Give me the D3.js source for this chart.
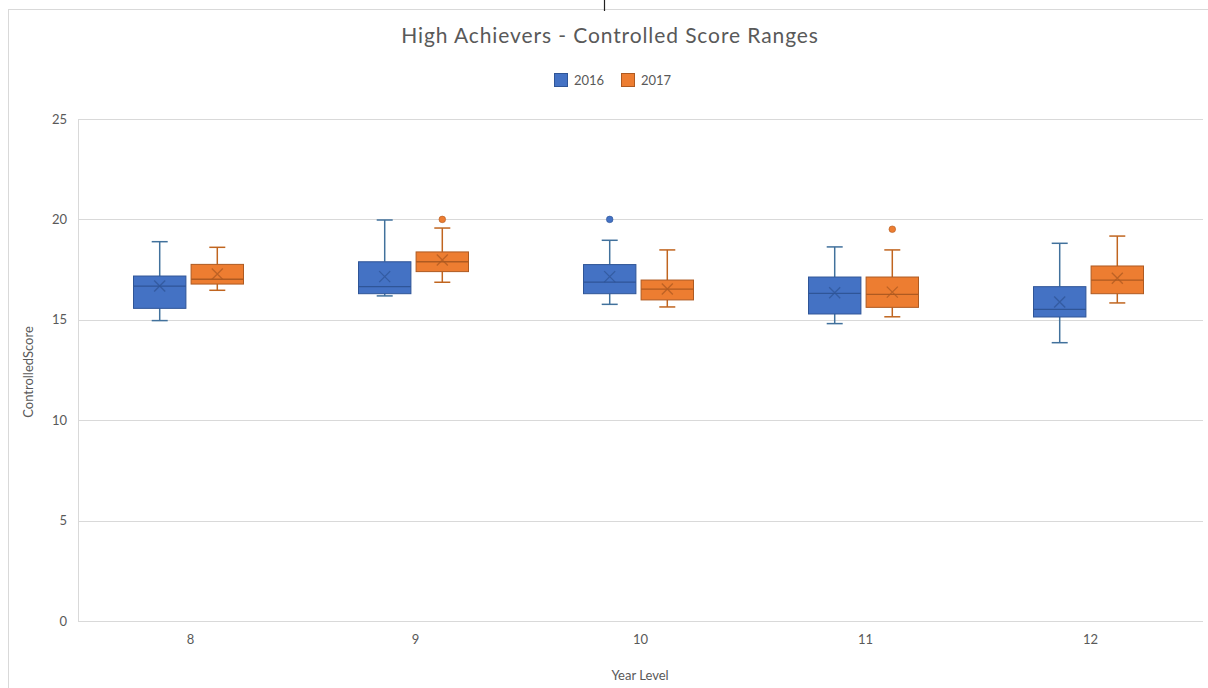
<!DOCTYPE html>
<html><head><meta charset="utf-8">
<script src="https://cdn.jsdelivr.net/npm/d3@7/dist/d3.min.js"></script>
<style>body{margin:0;background:#fff;}svg{display:block;font-family:Lato,"Open Sans",sans-serif;}</style>
</head><body>
<svg id="c" width="1208" height="688"></svg>
<script>
const categories = ["8","9","10","11","12"];
const series = ["2016","2017"];
const yTicks = [0,5,10,15,20,25];
// [whiskerLow, q1, median, q3, whiskerHigh, mean]
const values2016 = [
  [14.96,15.57,16.68,17.18,18.89,16.68],
  [16.19,16.30,16.65,17.89,19.97,17.15],
  [15.77,16.30,16.88,17.75,18.96,17.15],
  [14.81,15.29,16.32,17.13,18.63,16.35],
  [13.86,15.14,15.52,16.65,18.81,15.89]
];
const values2017 = [
  [16.47,16.78,17.02,17.76,18.61,17.28],
  [16.87,17.40,17.89,18.38,19.57,17.98],
  [15.64,15.99,16.53,16.98,18.48,16.53],
  [15.15,15.62,16.27,17.13,18.48,16.38],
  [15.84,16.30,16.98,17.68,19.17,17.07]
];
const outliers2016 = [[], [], [20.0], [], []];
const outliers2017 = [[], [20.0], [], [19.51], []];

const svg = d3.select("#c");
const m = {l:78, r:1203, t:119, b:621};

// chart border
svg.append("rect").attr("x",8.5).attr("y",9.5).attr("width",1210).attr("height",700)
  .attr("fill","none").attr("stroke","#d9d9d9");
svg.append("line").attr("x1",604.5).attr("x2",604.5).attr("y1",0).attr("y2",11).attr("stroke","#222").attr("stroke-width",1.2);

const x = d3.scaleBand().domain(categories).range([m.l, m.r]);
const xs = d3.scaleBand().domain(series).range([-57,53]).paddingInner(0.09);
const y = d3.scaleLinear().domain([0,25]).range([m.b, m.t]);

// gridlines
svg.append("g").selectAll("line").data(yTicks).join("line")
  .attr("x1",m.l).attr("x2",m.r)
  .attr("y1",d=>Math.round(y(d))+0.5).attr("y2",d=>Math.round(y(d))+0.5)
  .attr("stroke","#d9d9d9").attr("stroke-width",1);
svg.append("line").attr("x1",m.l+0.5).attr("x2",m.l+0.5).attr("y1",m.t).attr("y2",m.b)
  .attr("stroke","#d9d9d9");

// y axis
const yAxis = svg.append("g").attr("transform",`translate(${m.l-11},0)`)
  .call(d3.axisLeft(y).tickValues(yTicks).tickSize(0).tickPadding(0));
yAxis.select(".domain").remove();
yAxis.selectAll("text").attr("fill","#595959").attr("font-size","13px").attr("font-family","Lato, sans-serif");

// x axis
const xAxis = svg.append("g").attr("transform",`translate(0,${m.b+14})`)
  .call(d3.axisBottom(x).tickSize(0).tickPadding(0));
xAxis.select(".domain").remove();
xAxis.selectAll("text").attr("fill","#595959").attr("font-size","13px").attr("font-family","Lato, sans-serif");

// titles
svg.append("text").attr("x",610).attr("y",43).attr("text-anchor","middle")
  .attr("fill","#595959").attr("font-size","21px").attr("letter-spacing","0.9px")
  .text("High Achievers - Controlled Score Ranges");
svg.append("text").attr("x",640).attr("y",680).attr("text-anchor","middle")
  .attr("fill","#595959").attr("font-size","13px").text("Year Level");
svg.append("text").attr("transform","translate(33,372) rotate(-90)").attr("text-anchor","middle")
  .attr("fill","#595959").attr("font-size","13px").text("ControlledScore");

const fills = {"2016":"#4472C4","2017":"#ED7D31"};
const strokes = {"2016":"#2F5597","2017":"#AE5A21"};
const whisk = {"2016":"#41719C","2017":"#C0651F"};

// legend
const leg = svg.append("g");
const legX = {"2016":554,"2017":621};
series.forEach(s=>{
  leg.append("rect").attr("x",legX[s]+0.5).attr("y",73.5).attr("width",13).attr("height",13)
    .attr("fill",fills[s]).attr("stroke",strokes[s]);
  leg.append("text").attr("x",legX[s]+20).attr("y",85).attr("fill","#595959")
    .attr("font-size","13px").text(s);
});

const data = {"2016":values2016,"2017":values2017};
const outs = {"2016":outliers2016,"2017":outliers2017};
const bw = xs.bandwidth();
const capW = 16;
series.forEach(s=>{
  const g = svg.append("g");
  categories.forEach((c,i)=>{
    const [lo,q1,md,q3,hi,mn] = data[s][i];
    const cx = x(c)+x.bandwidth()/2 + xs(s) + bw/2;
    const st = whisk[s];
    g.append("line").attr("x1",cx).attr("x2",cx).attr("y1",y(hi)).attr("y2",y(q3)).attr("stroke",st).attr("stroke-width",1.5);
    g.append("line").attr("x1",cx).attr("x2",cx).attr("y1",y(q1)).attr("y2",y(lo)).attr("stroke",st).attr("stroke-width",1.5);
    g.append("line").attr("x1",cx-capW/2).attr("x2",cx+capW/2).attr("y1",y(hi)).attr("y2",y(hi)).attr("stroke",st).attr("stroke-width",1.5);
    g.append("line").attr("x1",cx-capW/2).attr("x2",cx+capW/2).attr("y1",y(lo)).attr("y2",y(lo)).attr("stroke",st).attr("stroke-width",1.5);
    g.append("rect").attr("x",cx-bw/2).attr("y",y(q3)).attr("width",bw).attr("height",y(q1)-y(q3))
      .attr("fill",fills[s]).attr("stroke",strokes[s]).attr("stroke-width",1);
    g.append("line").attr("x1",cx-bw/2).attr("x2",cx+bw/2).attr("y1",y(md)).attr("y2",y(md))
      .attr("stroke",strokes[s]).attr("stroke-width",1.3);
    const ms = 5.5;
    g.append("path").attr("d",`M${cx-ms},${y(mn)-ms}L${cx+ms},${y(mn)+ms}M${cx-ms},${y(mn)+ms}L${cx+ms},${y(mn)-ms}`)
      .attr("stroke",strokes[s]).attr("stroke-width",1.3).attr("opacity",0.75);
    outs[s][i].forEach(v=>{
      g.append("circle").attr("cx",cx).attr("cy",y(v)).attr("r",3.3).attr("fill",fills[s]).attr("stroke",strokes[s]).attr("stroke-width",0.6);
    });
  });
});
</script>
</body></html>
